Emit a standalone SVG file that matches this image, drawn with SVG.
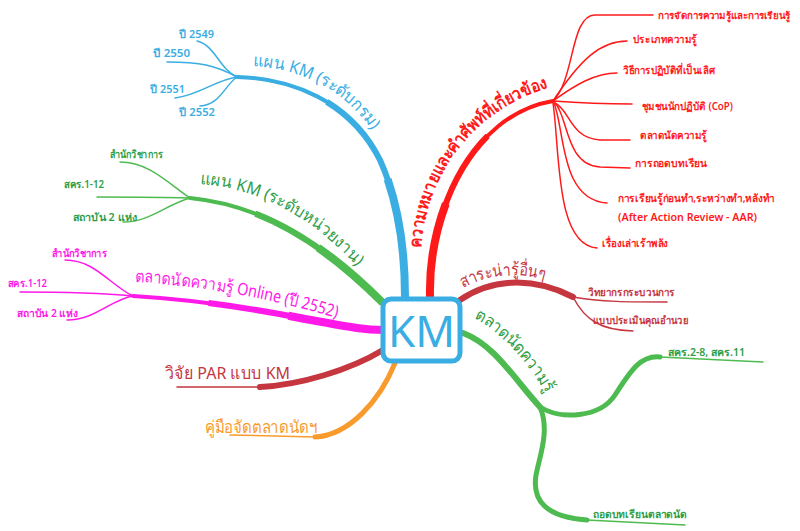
<svg xmlns="http://www.w3.org/2000/svg" width="800" height="531" viewBox="0 0 800 531">
<style>
text{font-family:"Noto Sans","DejaVu Sans",sans-serif}
.lbl{font-size:17px}
.sm{font-size:10.5px;font-weight:600}
.ln{fill:none;stroke-linecap:round}
.tp{fill:none;stroke-linecap:butt}
.t2{stroke-dasharray:0 30 70 0}
.t3{stroke-dasharray:0 62 38 0}
.r2{stroke-dasharray:70 30}
.r3{stroke-dasharray:38 62}
.blue{stroke:#3aaee3}.green{stroke:#4dbb50}.mag{stroke:#ff19e8}.red{stroke:#ff1a1a}.dred{stroke:#c5363f}.org{stroke:#f89b2c}
.tb{fill:#3aaee3}.tg{fill:#2f9e48}.tm{fill:#ff19e8}.tr{fill:#ff1a1a}.td{fill:#c5363f}.to{fill:#f89b2c}
</style>
<defs>
<path id="pBlue" d="M253,66 C296,68 346,88 374,134 C380,145 385,155 388,165"/>
<path id="pGreen" d="M200,184 C260,189 312,216 358,268"/>
<path id="pMag" d="M135,282 C200,285 280,300 350,322"/>
<path id="pRed" d="M421,248 C425,180 470,108 555,86"/>
<path id="pDred" d="M463,288 C490,274 520,270 556,284"/>
<path id="pGm" d="M474,318 C506,335 530,365 554,406"/>
</defs>
<g id="connectors">
<path class="ln blue" stroke-width="4" d="M237,77 C290,78 350,100 380,160 C398,200 405,250 405,297"/>
<path class="tp blue t2" stroke-width="6" pathLength="100" d="M237,77 C290,78 350,100 380,160 C398,200 405,250 405,297"/>
<path class="tp blue t3" stroke-width="8" pathLength="100" d="M237,77 C290,78 350,100 380,160 C398,200 405,250 405,297"/>
<path class="ln blue" stroke-width="1.5" d="M237,77 C220,70 215,45 197,41"/>
<path class="ln blue" stroke-width="1.5" d="M237,77 C215,65 200,62 167,62"/>
<path class="ln blue" stroke-width="1.5" d="M237,77 C215,80 200,95 175,98"/>
<path class="ln blue" stroke-width="1.5" d="M237,77 C225,85 220,105 200,106"/>
<path class="ln green" stroke-width="4" d="M190,198 C260,205 320,240 383,303"/>
<path class="tp green t2" stroke-width="6" pathLength="100" d="M190,198 C260,205 320,240 383,303"/>
<path class="tp green t3" stroke-width="8" pathLength="100" d="M190,198 C260,205 320,240 383,303"/>
<path class="ln green" stroke-width="1.5" d="M190,198 C170,185 150,162 120,162"/>
<path class="ln green" stroke-width="1.5" d="M190,198 C160,197 130,197 97,197"/>
<path class="ln green" stroke-width="1.5" d="M190,198 C165,205 150,222 123,222"/>
<path class="ln mag" stroke-width="4" d="M133,296 C200,300 260,310 300,318 C340,325 360,330 383,330"/>
<path class="tp mag t2" stroke-width="6" pathLength="100" d="M133,296 C200,300 260,310 300,318 C340,325 360,330 383,330"/>
<path class="tp mag t3" stroke-width="8" pathLength="100" d="M133,296 C200,300 260,310 300,318 C340,325 360,330 383,330"/>
<path class="ln mag" stroke-width="1.5" d="M133,296 C110,285 95,260 65,260"/>
<path class="ln mag" stroke-width="1.5" d="M133,296 C90,292 50,292 20,292"/>
<path class="ln mag" stroke-width="1.5" d="M133,296 C110,300 95,320 67,320"/>
<path class="ln dred" stroke-width="6" d="M383,350 C350,370 300,385 260,387"/>
<path class="ln dred" stroke-width="1.5" d="M260,387 L177,387"/>
<path class="ln org" stroke-width="5" d="M395,363 C380,400 350,435 315,437"/>
<path class="ln org" stroke-width="1.5" d="M315,437 L230,435"/>
<path class="ln red" stroke-width="4" d="M430,297 C428,215 470,115 553,101"/>
<path class="tp red r2" stroke-width="6" pathLength="100" d="M430,297 C428,215 470,115 553,101"/>
<path class="tp red r3" stroke-width="8" pathLength="100" d="M430,297 C428,215 470,115 553,101"/>
<path class="ln red" stroke-width="1.5" d="M553,101 C575,80 570,15 595,15 L653,15"/>
<path class="ln red" stroke-width="1.5" d="M553,101 C580,60 600,41 627,41"/>
<path class="ln red" stroke-width="1.5" d="M553,101 C575,85 595,73 617,73"/>
<path class="ln red" stroke-width="1.5" d="M553,101 C580,103 610,104 632,104"/>
<path class="ln red" stroke-width="1.5" d="M555,103 C570,110 570,138 600,140 L630,140"/>
<path class="ln red" stroke-width="1.5" d="M555,103 C568,115 565,165 600,167 L630,168"/>
<path class="ln red" stroke-width="1.5" d="M554,103 C565,130 560,200 607,203"/>
<path class="ln red" stroke-width="1.5" d="M553,103 C560,150 555,245 597,248"/>
<path class="ln dred" stroke-width="6" d="M460,300 C490,280 530,275 573,297"/>
<path class="ln dred" stroke-width="1.5" d="M573,297 C600,302 630,302 667,302"/>
<path class="ln dred" stroke-width="1.5" d="M573,297 C585,320 600,330 633,331"/>
<path class="ln green" stroke-width="6" d="M463,333 C495,345 515,380 540,407"/>
<path class="ln green" stroke-width="5" d="M540,407 C560,420 600,418 615,395 C630,372 640,355 660,357"/>
<path class="ln green" stroke-width="1.5" d="M660,357 L763,362"/>
<path class="ln green" stroke-width="5" d="M540,407 C550,430 540,455 536,475 C532,500 545,517 587,520"/>
<path class="ln green" stroke-width="1.5" d="M587,520 L685,525"/>
</g>
<g id="km">
<rect x="383" y="299" width="77" height="62" rx="8" fill="#fff" stroke="#3aaee3" stroke-width="5"/>
<text x="421.5" y="347" font-size="44" text-anchor="middle" class="tb">KM</text>
</g>
<g id="plan-dept">
<text class="lbl tb"><textPath href="#pBlue" textLength="140" lengthAdjust="spacingAndGlyphs">แผน KM (ระดับกรม)</textPath></text>
<text class="sm tb" x="179" y="38" textLength="35" lengthAdjust="spacingAndGlyphs">ปี 2549</text>
<text class="sm tb" x="153" y="57" textLength="37" lengthAdjust="spacingAndGlyphs">ปี 2550</text>
<text class="sm tb" x="150" y="93" textLength="35" lengthAdjust="spacingAndGlyphs">ปี 2551</text>
<text class="sm tb" x="179" y="116" textLength="36" lengthAdjust="spacingAndGlyphs">ปี 2552</text>
</g>
<g id="plan-unit">
<text class="lbl tg"><textPath href="#pGreen" textLength="182" lengthAdjust="spacingAndGlyphs">แผน KM (ระดับหน่วยงาน)</textPath></text>
<text class="sm tg" x="110" y="158" textLength="53" lengthAdjust="spacingAndGlyphs">สำนักวิชาการ</text>
<text class="sm tg" x="64" y="188" textLength="40" lengthAdjust="spacingAndGlyphs">สคร.1-12</text>
<text class="sm tg" x="73" y="221" textLength="64" lengthAdjust="spacingAndGlyphs">สถาบัน 2 แห่ง</text>
</g>
<g id="market-online">
<text class="lbl tm"><textPath href="#pMag" textLength="205" lengthAdjust="spacingAndGlyphs">ตลาดนัดความรู้ Online (ปี 2552)</textPath></text>
<text class="sm tm" x="52" y="257" textLength="55" lengthAdjust="spacingAndGlyphs">สำนักวิชาการ</text>
<text class="sm tm" x="8" y="287" textLength="39" lengthAdjust="spacingAndGlyphs">สคร.1-12</text>
<text class="sm tm" x="17" y="317" textLength="61" lengthAdjust="spacingAndGlyphs">สถาบัน 2 แห่ง</text>
</g>
<g id="par">
<text class="lbl td" x="165" y="379" textLength="125" lengthAdjust="spacingAndGlyphs">วิจัย PAR แบบ KM</text>
</g>
<g id="manual">
<text class="lbl to" x="205" y="433" textLength="113" lengthAdjust="spacingAndGlyphs">คู่มือจัดตลาดนัดฯ</text>
</g>
<g id="terms">
<text class="lbl tr" font-weight="bold"><textPath href="#pRed" textLength="218" lengthAdjust="spacingAndGlyphs">ความหมายและคำศัพท์ที่เกี่ยวข้อง</textPath></text>
<text class="sm tr" x="658" y="19" font-size="9.5" textLength="132" lengthAdjust="spacingAndGlyphs" style="font-size:9.5px">การจัดการความรู้และการเรียนรู้</text>
<text class="sm tr" x="633" y="43" textLength="64" lengthAdjust="spacingAndGlyphs">ประเภทความรู้</text>
<text class="sm tr" x="623" y="74" textLength="92" lengthAdjust="spacingAndGlyphs">วิธีการปฏิบัติที่เป็นเลิศ</text>
<text class="sm tr" x="642" y="110" textLength="91" lengthAdjust="spacingAndGlyphs">ชุมชนนักปฏิบัติ (CoP)</text>
<text class="sm tr" x="640" y="139" textLength="67" lengthAdjust="spacingAndGlyphs">ตลาดนัดความรู้</text>
<text class="sm tr" x="635" y="167" textLength="72" lengthAdjust="spacingAndGlyphs">การถอดบทเรียน</text>
<text class="sm tr" x="618" y="202" textLength="157" lengthAdjust="spacingAndGlyphs">การเรียนรู้ก่อนทำ,ระหว่างทำ,หลังทำ</text>
<text class="sm tr" x="618" y="221" textLength="139" lengthAdjust="spacingAndGlyphs">(After Action Review - AAR)</text>
<text class="sm tr" x="602" y="247" textLength="66" lengthAdjust="spacingAndGlyphs">เรื่องเล่าเร้าพลัง</text>
</g>
<g id="other">
<text class="lbl td"><textPath href="#pDred" textLength="84" lengthAdjust="spacingAndGlyphs">สาระน่ารู้อื่นๆ</textPath></text>
<text class="sm td" x="588" y="296" textLength="87" lengthAdjust="spacingAndGlyphs">วิทยากรกระบวนการ</text>
<text class="sm td" x="593" y="324" textLength="95" lengthAdjust="spacingAndGlyphs">แบบประเมินคุณอำนวย</text>
</g>
<g id="market">
<text class="lbl tg"><textPath href="#pGm" textLength="105" lengthAdjust="spacingAndGlyphs">ตลาดนัดความรู้</textPath></text>
<text class="sm tg" x="668" y="356" textLength="77" lengthAdjust="spacingAndGlyphs">สคร.2-8, สคร.11</text>
<text class="sm tg" x="593" y="518" textLength="94" lengthAdjust="spacingAndGlyphs">ถอดบทเรียนตลาดนัด</text>
</g>
</svg>
